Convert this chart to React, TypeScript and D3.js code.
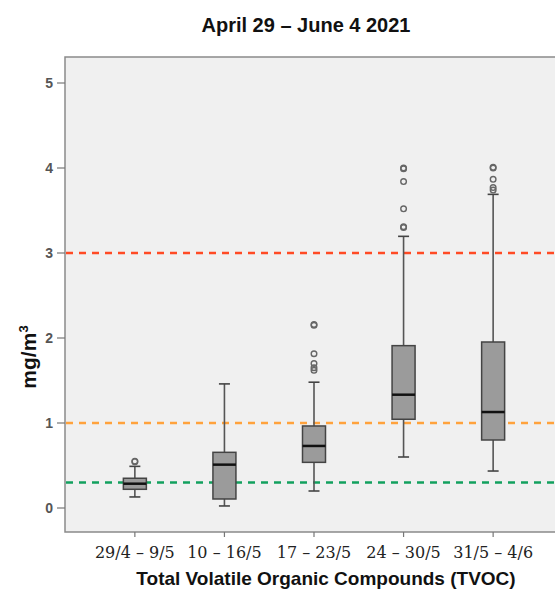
import React from "react";
import * as d3 from "d3";

const categories = ["29/4 – 9/5", "10 – 16/5", "17 – 23/5", "24 – 30/5", "31/5 – 4/6"];
const whiskerLow = [0.13, 0.024, 0.2, 0.6, 0.435];
const q1 = [0.22, 0.106, 0.537, 1.044, 0.8];
const median = [0.286, 0.51, 0.73, 1.333, 1.129];
const q3 = [0.35, 0.655, 0.965, 1.91, 1.953];
const whiskerHigh = [0.49, 1.46, 1.48, 3.196, 3.69];
const outliers = [
  [0.545, 0.55],
  [],
  [2.15, 2.16, 1.815, 1.7, 1.65, 1.62],
  [4.0, 3.99, 3.84, 3.52, 3.31, 3.3],
  [4.008, 4.0, 3.867, 3.77, 3.74],
];
const yTicks = [0, 1, 2, 3, 4, 5];
const thresholds = [3, 1, 0.3];
const thresholdColors = ["#ff4a24", "#ffa23c", "#12a05e"];

const W = 555;
const H = 589;
const left = 65;
const top = 57;
const bottom = 532;
const right = 563;

export default function App() {
  const y = d3.scaleLinear().domain([0, 5]).range([508, 83]);
  const x = d3.scalePoint<string>().domain(categories).range([left, right]).padding(0.78);
  const bw = 23;
  const cap = 11;
  return (
    <svg width={W} height={H} style={{ position: "absolute", left: 0, top: 0, background: "#fff" }}>
      <text x={306} y={32} textAnchor="middle" fontFamily="Liberation Sans, Arial, sans-serif" fontWeight="bold" fontSize={20} fill="#111">
        April 29 – June 4 2021
      </text>
      <rect x={left} y={top} width={right - left} height={bottom - top} fill="#f0f0f0" stroke="#8a8a8a" strokeWidth={1.5} />
      {yTicks.map((t) => (
        <g key={t}>
          <line x1={57} x2={left} y1={y(t)} y2={y(t)} stroke="#777" strokeWidth={1.2} />
          <text x={53} y={y(t) + 5} textAnchor="end" fontFamily="Liberation Sans, Arial, sans-serif" fontWeight="bold" fontSize={14} fill="#555">
            {t}
          </text>
        </g>
      ))}
      {thresholds.map((t, i) => (
        <line key={t} x1={left + 1} x2={W} y1={y(t)} y2={y(t)} stroke={thresholdColors[i]} strokeWidth={2.6} strokeDasharray="7 6" />
      ))}
      {categories.map((c, i) => {
        const cx = x(c) as number;
        return (
          <g key={c}>
            <line x1={cx} x2={cx} y1={bottom} y2={bottom + 5} stroke="#777" strokeWidth={1.2} />
            <text x={cx} y={558} textAnchor="middle" fontFamily="DejaVu Serif, serif" fontSize={16} fill="#222">
              {c}
            </text>
            <line x1={cx} x2={cx} y1={y(whiskerLow[i])} y2={y(q1[i])} stroke="#555" strokeWidth={1.6} />
            <line x1={cx} x2={cx} y1={y(q3[i])} y2={y(whiskerHigh[i])} stroke="#555" strokeWidth={1.6} />
            <line x1={cx - cap / 2} x2={cx + cap / 2} y1={y(whiskerLow[i])} y2={y(whiskerLow[i])} stroke="#444" strokeWidth={1.6} />
            <line x1={cx - cap / 2} x2={cx + cap / 2} y1={y(whiskerHigh[i])} y2={y(whiskerHigh[i])} stroke="#444" strokeWidth={1.6} />
            <rect x={cx - bw / 2} y={y(q3[i])} width={bw} height={y(q1[i]) - y(q3[i])} fill="#9b9b9b" stroke="#444" strokeWidth={1.5} />
            <line x1={cx - bw / 2} x2={cx + bw / 2} y1={y(median[i])} y2={y(median[i])} stroke="#111" strokeWidth={2.5} />
            {outliers[i].map((o, j) => (
              <circle key={j} cx={cx} cy={y(o)} r={2.8} fill="none" stroke="#666" strokeWidth={1.4} />
            ))}
          </g>
        );
      })}
      <text transform="translate(36,357) rotate(-90)" textAnchor="middle" fontFamily="Liberation Sans, Arial, sans-serif" fontWeight="bold" fontSize={21} fill="#111">
        mg/m<tspan dy={-8} fontSize={13}>3</tspan>
      </text>
      <text x={326} y={585} textAnchor="middle" fontFamily="Liberation Sans, Arial, sans-serif" fontWeight="bold" fontSize={19} fill="#111">
        Total Volatile Organic Compounds (TVOC)
      </text>
    </svg>
  );
}
